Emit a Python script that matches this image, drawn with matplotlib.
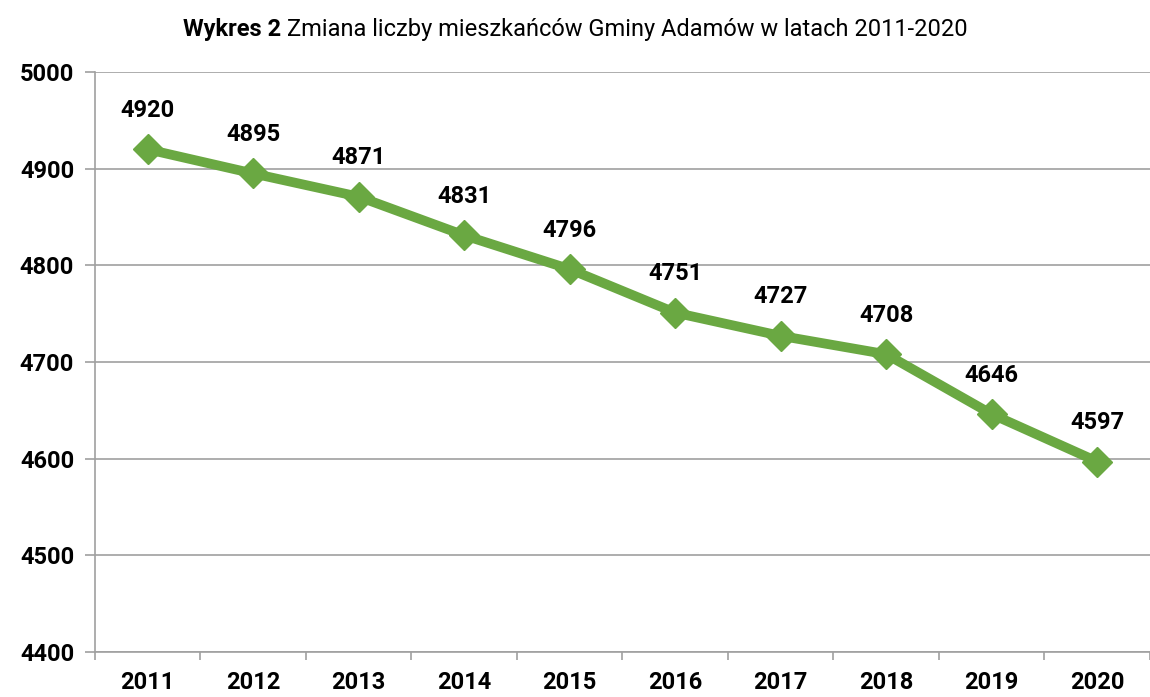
import matplotlib
matplotlib.use('Agg')
import matplotlib.pyplot as plt

years = ['2011', '2012', '2013', '2014', '2015', '2016', '2017', '2018', '2019', '2020']
residents = [4920, 4895, 4871, 4831, 4796, 4751, 4727, 4708, 4646, 4597]
y_ticks = [4400, 4500, 4600, 4700, 4800, 4900, 5000]

plt.rcParams['font.family'] = ['Roboto', 'DejaVu Sans']

fig = plt.figure(figsize=(11.5, 6.97), dpi=100)
ax = fig.add_axes([0.0826, 0.0646, 0.9174, 0.8321])

x = list(range(len(years)))
green = '#6aa842'
ax.plot(x, residents, color=green, linewidth=7, marker='D', markersize=15,
        markerfacecolor=green, markeredgecolor=green, zorder=3)

for i, v in zip(x, residents):
    ax.annotate(str(v), (i, v), xytext=(0, 28), textcoords='offset points',
                ha='center', va='center', fontsize=17, fontweight='bold')

ax.set_xlim(-0.5, len(years) - 0.5)
ax.set_ylim(4400, 5000)
ax.set_yticks(y_ticks)
ax.set_yticklabels([str(t) for t in y_ticks], fontsize=17, fontweight='bold')
ax.set_xticks(x)
ax.set_xticklabels(years, fontsize=17, fontweight='bold')
ax.set_xticks([i - 0.5 for i in range(len(years) + 1)], minor=True)
ax.tick_params(axis='x', which='major', length=0, pad=14)
ax.tick_params(axis='x', which='minor', length=6, color='#a0a0a0', width=1.2, direction='out')
ax.tick_params(axis='y', length=7, color='#a0a0a0', width=1.2, pad=8)

ax.grid(axis='y', color='#a0a0a0', linewidth=1.2)
ax.set_axisbelow(True)
for s in ['top', 'right']:
    ax.spines[s].set_visible(False)
for s in ['left', 'bottom']:
    ax.spines[s].set_color('#a0a0a0')
    ax.spines[s].set_linewidth(1.2)

# title: bold "Wykres 2" followed by regular text, centred together
title = fig.text(0.5, 0.958, 'Wykres 2 ', fontsize=17, fontweight='bold',
                 ha='left', va='center')
t2 = fig.text(0, 0.958, 'Zmiana liczby mieszkańców Gminy Adamów w latach 2011-2020',
              fontsize=17, ha='left', va='center')
fig.canvas.draw()
r = fig.canvas.get_renderer()
w1 = title.get_window_extent(r).width
w2 = t2.get_window_extent(r).width
start = (1150 - w1 - w2) / 2 / 1150
title.set_x(start)
t2.set_x(start + w1 / 1150)

fig.savefig('out.png', dpi=100)
